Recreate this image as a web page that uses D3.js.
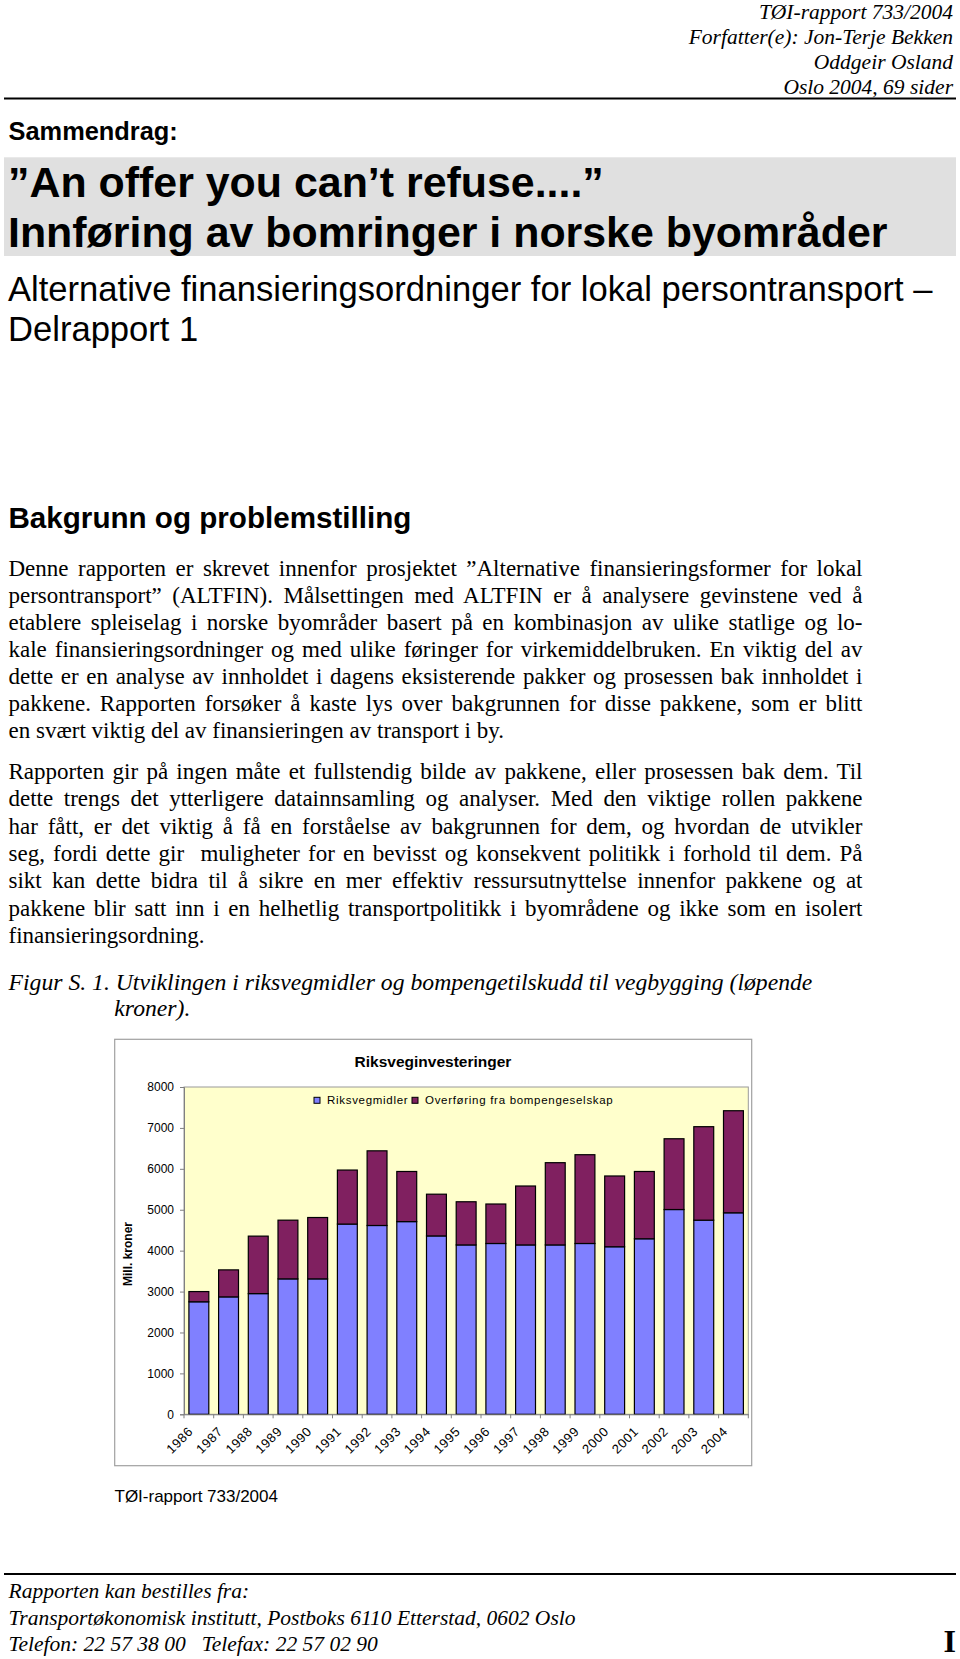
<!DOCTYPE html>
<html><head><meta charset="utf-8">
<script src="https://cdn.jsdelivr.net/npm/d3@7"></script>
<style>
body{margin:0;background:#fff}
svg{display:block}
text{white-space:pre}
</style>
</head><body>
<svg id="page" width="960" height="1659"></svg>
<script>
// ---------- chart data ----------
const years = ["1986","1987","1988","1989","1990","1991","1992","1993","1994","1995","1996","1997","1998","1999","2000","2001","2002","2003","2004"];
const riksvegmidler = [2750, 2870, 2950, 3310, 3310, 4650, 4615, 4710, 4360, 4140, 4175, 4140, 4140, 4175, 4095, 4290, 5005, 4745, 4925];
const bompenger = [250, 660, 1405, 1435, 1500, 1320, 1825, 1225, 1020, 1055, 965, 1440, 2010, 2170, 1730, 1645, 1730, 2285, 2495];
const yTicks = [0, 1000, 2000, 3000, 4000, 5000, 6000, 7000, 8000];
const seriesNames = ["Riksvegmidler", "Overføring fra bompengeselskap"];
const seriesColors = ["#8080ff", "#802060"];
const chartTitle = "Riksveginvesteringer";
const yAxisLabel = "Mill. kroner";

// ---------- page texts ----------
const headerLines = ["TØI-rapport 733/2004", "Forfatter(e): Jon-Terje Bekken", "Oddgeir Osland", "Oslo 2004, 69 sider"];
const kicker = "Sammendrag:";
const titleLines = ["”An offer you can’t refuse....”", "Innføring av bomringer i norske byområder"];
const subtitleLines = ["Alternative finansieringsordninger for lokal persontransport –", "Delrapport 1"];
const heading = "Bakgrunn og problemstilling";
const para1 = [
  "Denne rapporten er skrevet innenfor prosjektet ”Alternative finansieringsformer for lokal",
  "persontransport” (ALTFIN). Målsettingen med ALTFIN er å analysere gevinstene ved å",
  "etablere spleiselag i norske byområder basert på en kombinasjon av ulike statlige og lo-",
  "kale finansieringsordninger og med ulike føringer for virkemiddelbruken. En viktig del av",
  "dette er en analyse av innholdet i dagens eksisterende pakker og prosessen bak innholdet i",
  "pakkene. Rapporten forsøker å kaste lys over bakgrunnen for disse pakkene, som er blitt",
  "en svært viktig del av finansieringen av transport i by."
];
const para2 = [
  "Rapporten gir på ingen måte et fullstendig bilde av pakkene, eller prosessen bak dem. Til",
  "dette trengs det ytterligere datainnsamling og analyser. Med den viktige rollen pakkene",
  "har fått, er det viktig å få en forståelse av bakgrunnen for dem, og hvordan de utvikler",
  "seg, fordi dette gir  muligheter for en bevisst og konsekvent politikk i forhold til dem. På",
  "sikt kan dette bidra til å sikre en mer effektiv ressursutnyttelse innenfor pakkene og at",
  "pakkene blir satt inn i en helhetlig transportpolitikk i byområdene og ikke som en isolert",
  "finansieringsordning."
];
const figCaption = ["Figur S. 1. Utviklingen i riksvegmidler og bompengetilskudd til vegbygging (løpende", "kroner)."];
const sourceNote = "TØI-rapport 733/2004";
const footerLines = ["Rapporten kan bestilles fra:", "Transportøkonomisk institutt, Postboks 6110 Etterstad, 0602 Oslo", "Telefon: 22 57 38 00   Telefax: 22 57 02 90"];
const pageNumber = "I";

const SANS = "'Liberation Sans', Arial, Helvetica, sans-serif";
const SERIF = "'Liberation Serif', 'Times New Roman', Times, serif";

function draw() {
  const svg = d3.select("#page");
  svg.append("rect").attr("width", 960).attr("height", 1659).attr("fill", "#fff");

  function txt(s, x, y, o) {
    o = o || {};
    const t = svg.append("text").attr("x", x).attr("y", y).text(s)
      .attr("font-family", o.family || SERIF)
      .attr("font-size", o.size || 16)
      .attr("fill", "#000");
    if (o.weight) t.attr("font-weight", o.weight);
    if (o.italic) t.attr("font-style", "italic");
    if (o.anchor) t.attr("text-anchor", o.anchor);
    return t;
  }
  function justify(t, width) {
    const s = t.text();
    const n = (s.match(/ /g) || []).length;
    const w = t.node().getComputedTextLength();
    if (n > 0) t.style("word-spacing", ((width - w) / n) + "px");
  }

  // header
  headerLines.forEach((s, i) => txt(s, 953, 18.5 + i * 25, {size: 21.5, italic: true, anchor: "end"}));
  svg.append("line").attr("x1", 4).attr("x2", 956).attr("y1", 98.5).attr("y2", 98.5).attr("stroke", "#000").attr("stroke-width", 2);

  txt(kicker, 8.5, 140, {family: SANS, size: 25.4, weight: "bold"});

  // title band
  svg.append("rect").attr("x", 4).attr("y", 157.3).attr("width", 952).attr("height", 98.7).attr("fill", "#e0e0e0");
  titleLines.forEach((s, i) => txt(s, 8, 196.7 + i * 50, {family: SANS, size: 42.9, weight: "bold"}));
  subtitleLines.forEach((s, i) => txt(s, 8, 301 + i * 39.5, {family: SANS, size: 34.6}));

  txt(heading, 8.5, 527.5, {family: SANS, size: 29.6, weight: "bold"});

  const L = 8.5, R = 862.5;
  para1.forEach((s, i) => {
    const t = txt(s, L, 575.5 + i * 27.15, {size: 23});
    if (i < para1.length - 1) justify(t, R - L);
  });
  para2.forEach((s, i) => {
    const t = txt(s, L, 779 + i * 27.35, {size: 23});
    if (i < para2.length - 1) justify(t, R - L);
  });
  txt(figCaption[0], L, 989.5, {size: 23.7, italic: true});
  txt(figCaption[1], 114.3, 1016, {size: 23.7, italic: true});

  // ---------- chart ----------
  const frame = {x: 114.7, y: 1039.3, w: 637, h: 426.4};
  svg.append("rect").attr("x", frame.x).attr("y", frame.y).attr("width", frame.w).attr("height", frame.h)
    .attr("fill", "#fff").attr("stroke", "#a0a0a0").attr("stroke-width", 1.2);

  const plot = {l: 184, r: 748.3, t: 1087, b: 1414.3};
  const x = d3.scaleBand().domain(years).range([plot.l, plot.r]).paddingInner(0.33).paddingOuter(0.165);
  const y = d3.scaleLinear().domain([0, 8000]).range([plot.b, plot.t]);

  svg.append("rect").attr("x", plot.l).attr("y", plot.t).attr("width", plot.r - plot.l).attr("height", plot.b - plot.t)
    .attr("fill", "#ffffcc").attr("stroke", "#9a9a9a").attr("stroke-width", 1);

  const rows = years.map((yr, i) => ({year: yr, riks: riksvegmidler[i], bomp: bompenger[i]}));
  const stacked = d3.stack().keys(["riks", "bomp"])(rows);
  svg.append("g").selectAll("g").data(stacked).join("g")
    .attr("fill", (d, i) => seriesColors[i])
    .selectAll("rect").data(d => d).join("rect")
    .attr("x", d => x(d.data.year))
    .attr("width", x.bandwidth())
    .attr("y", d => y(d[1]))
    .attr("height", d => y(d[0]) - y(d[1]))
    .attr("stroke", "#000").attr("stroke-width", 1.2);

  // y axis
  const ya = svg.append("g").attr("transform", `translate(${plot.l},0)`)
    .call(d3.axisLeft(y).tickValues(yTicks).tickFormat(d3.format("d")).tickSize(4).tickPadding(6));
  ya.select(".domain").attr("stroke", "#808080");
  ya.selectAll(".tick line").attr("stroke", "#808080");
  ya.selectAll(".tick text").attr("font-family", SANS).attr("font-size", 12).attr("fill", "#000");

  // x axis
  const xa = svg.append("g").attr("transform", `translate(0,${plot.b})`)
    .call(d3.axisBottom(x).tickSize(0).tickPadding(0));
  xa.select(".domain").attr("stroke", "#808080");
  xa.selectAll(".tick text").attr("font-family", SANS).attr("font-size", 13).attr("letter-spacing", 0.6).attr("fill", "#000")
    .attr("y", 0).attr("dy", 0).attr("text-anchor", "end")
    .attr("transform", "translate(-5,18) rotate(-45)");
  const gap = (x.step() - x.bandwidth()) / 2;
  const bounds = years.map(d => x(d) - gap).concat([x(years[years.length - 1]) + x.bandwidth() + gap]);
  svg.append("g").selectAll("line").data(bounds).join("line")
    .attr("x1", d => d).attr("x2", d => d).attr("y1", plot.b).attr("y2", plot.b + 4)
    .attr("stroke", "#808080");

  // y label
  svg.append("text").attr("transform", `translate(131.5,1254) rotate(-90)`)
    .attr("text-anchor", "middle").attr("font-family", SANS).attr("font-size", 12).attr("font-weight", "bold")
    .text(yAxisLabel);

  // chart title
  svg.append("text").attr("x", 433).attr("y", 1067.3).attr("text-anchor", "middle")
    .attr("font-family", SANS).attr("font-size", 15.5).attr("font-weight", "bold").text(chartTitle);

  // legend
  const legX = [314, 412];
  const lg = svg.append("g").selectAll("g").data(seriesNames).join("g")
    .attr("transform", (d, i) => `translate(${legX[i]},1097.3)`);
  lg.append("rect").attr("width", 6).attr("height", 6).attr("fill", (d, i) => seriesColors[i])
    .attr("stroke", "#000").attr("stroke-width", 1);
  lg.append("text").attr("x", 13).attr("y", 6.7).attr("font-family", SANS).attr("font-size", 11.5)
    .attr("letter-spacing", 0.7).text(d => d);

  // source and footer
  txt(sourceNote, 114.5, 1502, {family: SANS, size: 17});
  svg.append("line").attr("x1", 4).attr("x2", 956).attr("y1", 1574).attr("y2", 1574).attr("stroke", "#000").attr("stroke-width", 2);
  footerLines.forEach((s, i) => txt(s, 8.5, 1598 + i * 26.5, {size: 21.5, italic: true}));
  txt(pageNumber, 956, 1652, {size: 32, weight: "bold", anchor: "end"});
}

if (document.fonts && document.fonts.ready) { document.fonts.ready.then(draw); } else { draw(); }
</script>
</body></html>
